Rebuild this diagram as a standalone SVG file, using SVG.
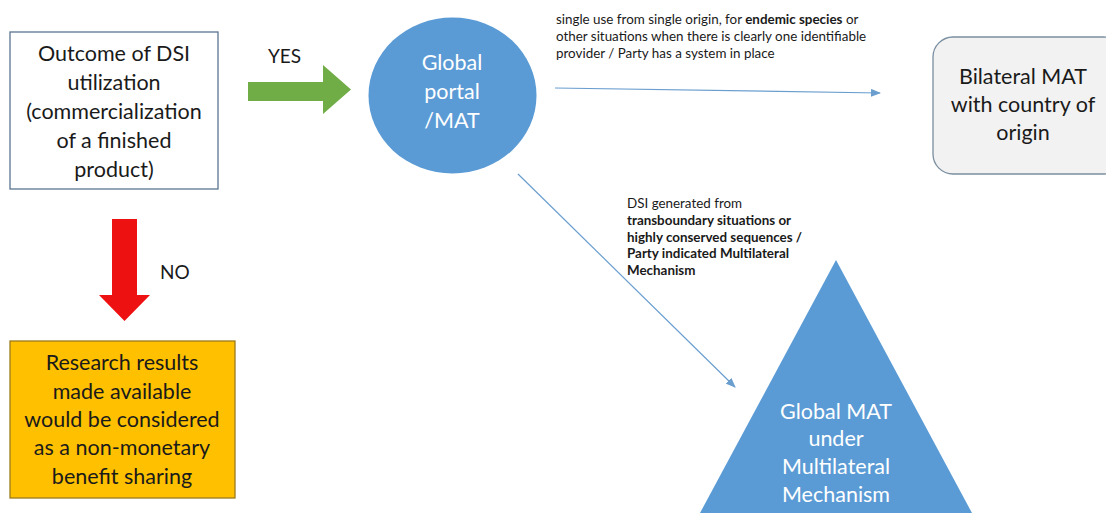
<svg xmlns="http://www.w3.org/2000/svg" width="1106" height="513" viewBox="0 0 1106 513">
<defs>
<style>
.t{font-family:Lato,"Open Sans","Liberation Sans",sans-serif;}
.big{font-size:21.5px;text-anchor:middle;fill:#1a1a1a;}
.wh{font-size:21.5px;text-anchor:middle;fill:#ffffff;}
.lbl{font-size:19px;fill:#1a1a1a;}
.sm{font-size:13.4px;fill:#1a1a1a;}
.b{font-weight:bold;}
.conn{stroke:#6a9ecf;stroke-width:1.2;fill:none;marker-end:url(#ah);}
</style>
<marker id="ah" markerWidth="10" markerHeight="8" refX="9" refY="4" orient="auto" markerUnits="userSpaceOnUse">
<path d="M0,0 L10,4 L0,8 Z" fill="#6a9ecf"/>
</marker>
</defs>
<rect width="1106" height="513" fill="#ffffff"/>

<g id="outcome">
<rect x="10" y="32" width="208" height="157" fill="#ffffff" stroke="#5a7590" stroke-width="1.3"/>
<text class="t big" x="114" y="61">Outcome of DSI</text>
<text class="t big" x="114" y="90">utilization</text>
<text class="t big" x="114" y="119">(commercialization</text>
<text class="t big" x="114" y="148">of a finished</text>
<text class="t big" x="114" y="177">product)</text>
</g>

<g id="yes-arrow">
<path d="M248,82 L323,82 L323,65 L351,89.5 L323,114 L323,101 L248,101 Z" fill="#70ad47"/>
<text class="t lbl" x="268" y="63">YES</text>
</g>

<g id="portal">
<ellipse cx="452.5" cy="95.5" rx="84" ry="78" fill="#5b9bd5"/>
<text class="t wh" x="452" y="70">Global</text>
<text class="t wh" x="452" y="99">portal</text>
<text class="t wh" x="452" y="128">/MAT</text>
</g>

<g id="no-arrow">
<path d="M112,219 L137,219 L137,295 L150,295 L124.5,321 L99,295 L112,295 Z" fill="#ee1111"/>
<text class="t lbl" x="160" y="279">NO</text>
</g>

<g id="research">
<rect x="10" y="341" width="225" height="157" fill="#ffc000" stroke="#9c7a1c" stroke-width="1.3"/>
<text class="t big" x="122" y="370">Research results</text>
<text class="t big" x="122" y="399">made available</text>
<text class="t big" x="122" y="427">would be considered</text>
<text class="t big" x="122" y="455">as a non-monetary</text>
<text class="t big" x="122" y="484">benefit sharing</text>
</g>

<g id="bilateral">
<rect x="933" y="37" width="190" height="137" rx="20" ry="20" fill="#f2f2f2" stroke="#7a8ea0" stroke-width="1.3"/>
<text class="t big" x="1023" y="84">Bilateral MAT</text>
<text class="t big" x="1023" y="112">with country of</text>
<text class="t big" x="1023" y="140">origin</text>
</g>

<g id="multilateral">
<path d="M836,260 L972,513 L700,513 Z" fill="#5b9bd5"/>
<text class="t wh" x="836" y="419">Global MAT</text>
<text class="t wh" x="836" y="446">under</text>
<text class="t wh" x="836" y="474">Multilateral</text>
<text class="t wh" x="836" y="502">Mechanism</text>
</g>

<g id="connectors">
<line class="conn" x1="555" y1="88" x2="880" y2="93"/>
<line class="conn" x1="518" y1="174" x2="735" y2="387"/>
</g>

<g id="labels">
<text class="t sm" x="556" y="24">single use from single origin, for <tspan class="b">endemic species</tspan> or</text>
<text class="t sm" x="556" y="41">other situations when there is clearly one identifiable</text>
<text class="t sm" x="556" y="58">provider / Party has a system in place</text>
<text class="t sm" x="627" y="208">DSI generated from</text>
<text class="t sm b" x="627" y="225">transboundary situations or</text>
<text class="t sm b" x="627" y="242">highly conserved sequences /</text>
<text class="t sm b" x="627" y="258">Party indicated Multilateral</text>
<text class="t sm b" x="627" y="275">Mechanism</text>
</g>
</svg>
